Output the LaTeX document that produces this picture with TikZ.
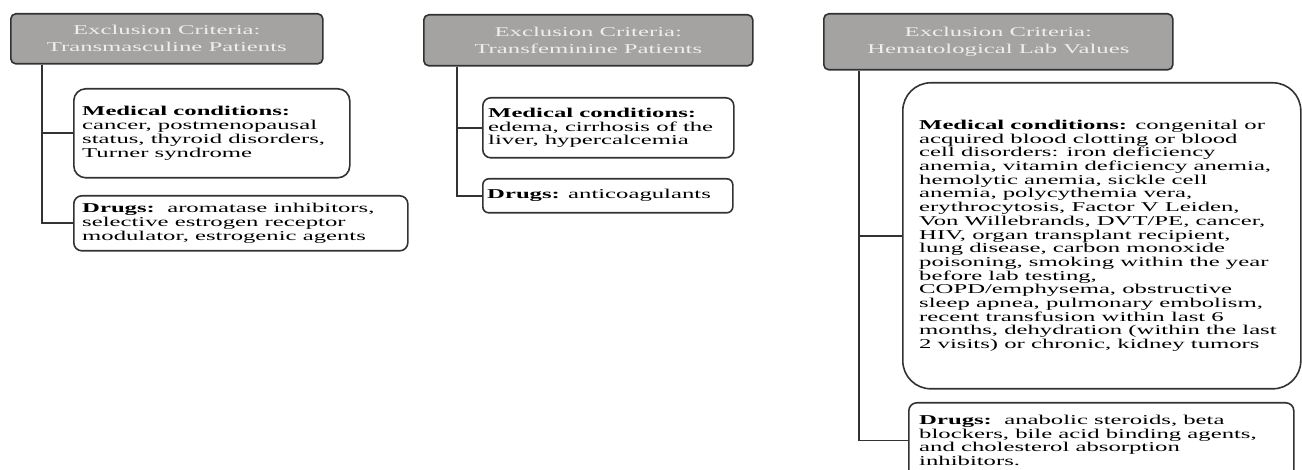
\documentclass[tikz,border=0pt]{standalone}
\usepackage{fontspec}
\setmainfont{Liberation Serif}[FakeStretch=1.83]
\usetikzlibrary{calc}
\definecolor{hdrfill}{RGB}{165,162,162}
\definecolor{hdrtext}{RGB}{238,238,238}
\definecolor{edge}{RGB}{50,50,50}
\tikzset{
  hdr/.style={draw=edge, line width=1.6pt, fill=hdrfill, rounded corners=5pt,
    anchor=north west, align=center, text=hdrtext, inner sep=0pt,
    font=\fontsize{13.5}{17}\selectfont},
  box/.style={draw=edge, line width=1.6pt, fill=white, anchor=north west, inner sep=0pt},
  txt/.style={anchor=west, align=left, inner sep=0pt, text=black,
    font=\fontsize{13.5}{13.7}\selectfont},
  conn/.style={draw=edge, line width=1.6pt}
}
\begin{document}
\begin{tikzpicture}[x=1pt,y=-1pt]
\useasboundingbox (0,0) rectangle (1302,470);
% column 1
\node[hdr, minimum width=312pt, minimum height=50pt] (h1) at (10,13)
  {Exclusion Criteria:\\Transmasculine Patients};
\node[box, rounded corners=12pt, minimum width=276pt, minimum height=89pt] (m1) at (73,88) {};
\node[txt] (m1t) at ($(m1.west)+(9pt,0)$)
  {\textbf{Medical conditions:}\\cancer, postmenopausal\\status, thyroid disorders,\\Turner syndrome};
\node[box, rounded corners=8pt, minimum width=334pt, minimum height=55pt] (d1) at (73,195) {};
\node[txt] (d1t) at ($(d1.west)+(9pt,0)$)
  {\textbf{Drugs:}\ \ aromatase inhibitors,\\selective estrogen receptor\\modulator, estrogenic agents};
\coordinate (s1) at ($(h1.south west)+(32pt,0)$);
\draw[conn] (s1) |- (m1.west);
\draw[conn] (s1) |- (d1.west);
% column 2
\node[hdr, minimum width=329pt, minimum height=51pt] (h2) at (423,14)
  {Exclusion Criteria:\\Transfeminine Patients};
\node[box, rounded corners=8pt, minimum width=251pt, minimum height=60pt] (m2) at (482,97) {};
\node[txt] (m2t) at ($(m2.west)+(6pt,0)$)
  {\textbf{Medical conditions:}\\edema, cirrhosis of the\\liver, hypercalcemia};
\node[box, rounded corners=6pt, minimum width=250pt, minimum height=34pt] (d2) at (482,178) {};
\node[txt] (d2t) at ($(d2.west)+(5pt,0)$)
  {\textbf{Drugs:} anticoagulants};
\coordinate (s2) at ($(h2.south west)+(34pt,0)$);
\draw[conn] (s2) |- (m2.west);
\draw[conn] (s2) |- (d2.west);
% column 3
\node[hdr, minimum width=349pt, minimum height=56pt] (h3) at (823,13)
  {Exclusion Criteria:\\Hematological Lab Values};
\node[box, rounded corners=28pt, minimum width=398pt, minimum height=306pt] (m3) at (902,82) {};
\node[txt] (m3t) at ($(m3.west)+(17pt,0)$)
  {\textbf{Medical conditions:} congenital or\\
   acquired blood clotting or blood\\
   cell disorders: iron deficiency\\
   anemia, vitamin deficiency anemia,\\
   hemolytic anemia, sickle cell\\
   anemia, polycythemia vera,\\
   erythrocytosis, Factor V Leiden,\\
   Von Willebrands, DVT/PE, cancer,\\
   HIV, organ transplant recipient,\\
   lung disease, carbon monoxide\\
   poisoning, smoking within the year\\
   before lab testing,\\
   COPD/emphysema, obstructive\\
   sleep apnea, pulmonary embolism,\\
   recent transfusion within last 6\\
   months, dehydration (within the last\\
   2 visits) or chronic, kidney tumors};
\node[box, rounded corners=8pt, minimum width=385pt, minimum height=75pt] (d3) at (908,402) {};
\node[txt] (d3t) at ($(d3.west)+(11pt,0)$)
  {\textbf{Drugs:}\ \ anabolic steroids, beta\\
   blockers, bile acid binding agents,\\
   and cholesterol absorption\\
   inhibitors.};
\coordinate (s3) at ($(h3.south west)+(36pt,0)$);
\draw[conn] (s3) |- (m3.west);
\draw[conn] (s3) |- (d3.west);
\end{tikzpicture}
\end{document}
